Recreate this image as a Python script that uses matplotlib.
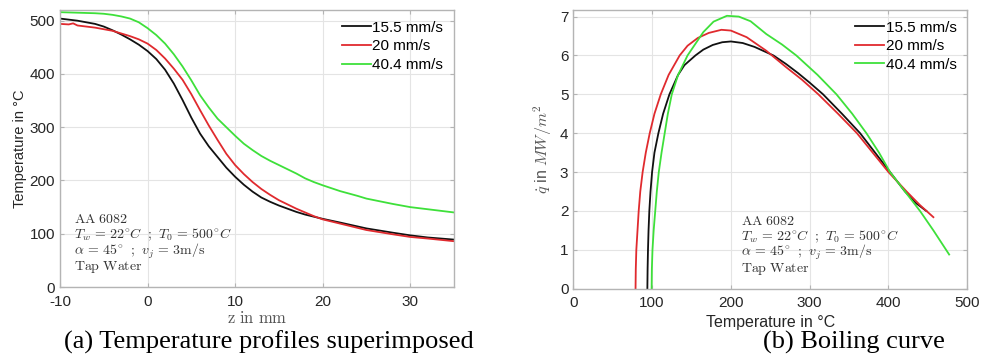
import matplotlib
matplotlib.use('Agg')
import matplotlib.pyplot as plt

plt.rcParams['mathtext.fontset'] = 'cm'
plt.rcParams['axes.unicode_minus'] = False
plt.rcParams['font.family'] = ['Liberation Sans', 'DejaVu Sans']

# (a) temperature profiles: z in mm -> temperature in degC
z_black = [-10, -9, -8, -7, -6, -5, -4, -3, -2, -1, 0, 1, 2, 3, 4, 5, 6, 7, 8, 9, 10,
           11, 12, 13, 14, 15, 16, 17, 18, 19, 20, 22, 25, 28, 30, 32, 35]
t_black = [504, 502, 500, 497, 494, 489, 482, 474, 465, 455, 443, 428, 408, 382, 351, 318, 288, 264, 244, 224, 207,
           192, 179, 168, 160, 153, 147, 141, 136, 132, 128, 121, 110, 102, 97, 93, 89]
z_red = [-10, -9, -8.5, -8, -7, -6, -5, -4, -3, -2, -1, 0, 1, 2, 3, 4, 5, 6, 7, 8, 9, 10,
         11, 12, 13, 14, 15, 16, 17, 18, 19, 20, 22, 25, 28, 30, 32, 35]
t_red = [494, 493, 495, 491, 489, 487, 484, 481, 476, 471, 465, 457, 445, 429, 410, 389, 362, 332, 303, 276, 250, 229,
         212, 197, 184, 173, 163, 155, 147, 140, 133, 127, 119, 107, 99, 94, 91, 86]
z_green = [-10, -8, -6, -5, -4, -3, -2, -1, 0, 1, 2, 3, 4, 5, 6, 7, 8, 9, 10,
           11, 12, 13, 14, 15, 16, 17, 18, 19, 20, 22, 24, 25, 28, 30, 32, 35]
t_green = [516, 515, 514, 513, 511, 508, 504, 497, 486, 473, 457, 437, 414, 388, 360, 337, 316, 300, 284,
           269, 257, 246, 237, 229, 221, 213, 204, 197, 191, 180, 171, 166, 156, 150, 146, 140]

# (b) boiling curve: temperature in degC -> heat flux in MW/m^2
tb_black = [94, 94.3, 94.8, 95.5, 96.5, 98, 100, 103, 108, 114, 122, 133, 141, 155, 165, 177, 189, 200,
            215, 230, 254, 270, 285, 300, 317, 341, 364, 383, 402, 421, 435, 448]
qb_black = [0, 0.5, 1.0, 1.5, 2.0, 2.5, 3.0, 3.5, 4.0, 4.5, 5.0, 5.5, 5.75, 6.0, 6.15, 6.27, 6.34, 6.36,
            6.32, 6.22, 6.0, 5.78, 5.55, 5.3, 5.0, 4.5, 4.0, 3.5, 3.0, 2.5, 2.2, 2.0]
tb_red = [79, 79.3, 80, 81.5, 83, 85, 88, 92, 97, 103, 111, 121, 135, 145, 158, 172, 188,
          200, 220, 245, 270, 290, 311, 336, 360, 380, 400, 423, 440, 457]
qb_red = [0, 0.5, 1.0, 1.5, 2.0, 2.5, 3.0, 3.5, 4.0, 4.5, 5.0, 5.5, 6.0, 6.25, 6.45, 6.58, 6.66,
          6.64, 6.47, 6.12, 5.7, 5.38, 5.0, 4.5, 4.0, 3.5, 3.0, 2.5, 2.15, 1.84]
tb_green = [99.4, 99.7, 100.5, 102, 104, 106, 108.5, 112, 116, 120, 125, 133, 145, 155, 165, 178, 195,
            210, 225, 245, 265, 283, 310, 334, 354, 372, 388, 402, 421, 440, 457, 477]
qb_green = [0, 0.5, 1.0, 1.5, 2.0, 2.5, 3.0, 3.5, 4.0, 4.5, 5.0, 5.5, 6.0, 6.3, 6.6, 6.87, 7.02,
            7.0, 6.88, 6.55, 6.28, 6.0, 5.5, 5.0, 4.5, 4.0, 3.5, 3.0, 2.5, 2.0, 1.5, 0.88]

labels = ['15.5 mm/s', '20 mm/s', '40.4 mm/s']
colors = ['#111111', '#e02a2e', '#3ee03a']

note_lines = ['$\\mathrm{AA\\ 6082}$',
              '$T_w\\,=\\,22^{\\circ}C\\ \\ ;\\ T_0\\,=\\,500^{\\circ}C$',
              '$\\alpha\\,=\\,45^{\\circ}\\ \\ ;\\ v_j\\,=\\,3\\mathrm{m/s}$',
              '$\\mathrm{Tap\\ Water}$']

fig = plt.figure(figsize=(9.82, 3.56), dpi=100)
ax1 = fig.add_axes([0.0611, 0.1938, 0.4012, 0.778])
ax2 = fig.add_axes([0.5838, 0.189, 0.4012, 0.783])


def style(ax):
    ax.grid(True, color='#e4e4e4', linewidth=0.8)
    ax.set_axisbelow(True)
    for s in ax.spines.values():
        s.set_color('#b4b4b4')
        s.set_linewidth(1.0)
    ax.tick_params(direction='in', length=3, color='#b4b4b4',
                   labelsize=11, labelcolor='#262626', top=True, right=True)
    ax.tick_params(axis='x', pad=5.5)


def note(ax, x0):
    # one text per line, 16 px apart like the reference
    for i, line in enumerate(note_lines):
        ax.annotate(line, xy=(x0, 0), xycoords='axes fraction',
                    xytext=(0, 68 - 16 * i), textcoords='offset pixels',
                    fontsize=10, color='#333333', va='center', ha='left')


ax1.plot(z_black, t_black, color=colors[0], lw=1.3, label=labels[0])
ax1.plot(z_red, t_red, color=colors[1], lw=1.3, label=labels[1])
ax1.plot(z_green, t_green, color=colors[2], lw=1.3, label=labels[2])
ax1.set_xlim(-10, 35)
ax1.set_ylim(0, 520)
ax1.set_xticks([-10, 0, 10, 20, 30])
ax1.set_yticks([0, 100, 200, 300, 400, 500])
style(ax1)
ax1.set_ylabel('Temperature in °C', fontsize=10.5, color='#262626', labelpad=2)
ax1.set_xlabel('$\\mathrm{z\\ in\\ mm}$', fontsize=12, color='#555555', labelpad=1)
note(ax1, 0.035)

ax2.plot(tb_black, qb_black, color=colors[0], lw=1.3, label=labels[0])
ax2.plot(tb_red, qb_red, color=colors[1], lw=1.3, label=labels[1])
ax2.plot(tb_green, qb_green, color=colors[2], lw=1.3, label=labels[2])
ax2.set_xlim(0, 500)
ax2.set_ylim(0, 7.17)
ax2.set_xticks([0, 100, 200, 300, 400, 500])
ax2.set_yticks(range(8))
style(ax2)
ax2.set_ylabel('$\\dot{q}$ in $MW/m^2$', fontsize=11.5, color='#555555', labelpad=4)
ax2.set_xlabel('Temperature in °C', fontsize=11.5, color='#262626', labelpad=3)
note(ax2, 0.425)

for ax in (ax1, ax2):
    ax.legend(loc='upper right', frameon=False, fontsize=11, handlelength=1.9,
              handletextpad=0.1, labelspacing=0.3, borderaxespad=0.3)

fig.text(0.274, 0.039, '(a) Temperature profiles superimposed', fontsize=19,
         family='Liberation Serif', ha='center', va='center')
fig.text(0.870, 0.039, '(b) Boiling curve', fontsize=19,
         family='Liberation Serif', ha='center', va='center')

fig.savefig('out.png', dpi=100)
